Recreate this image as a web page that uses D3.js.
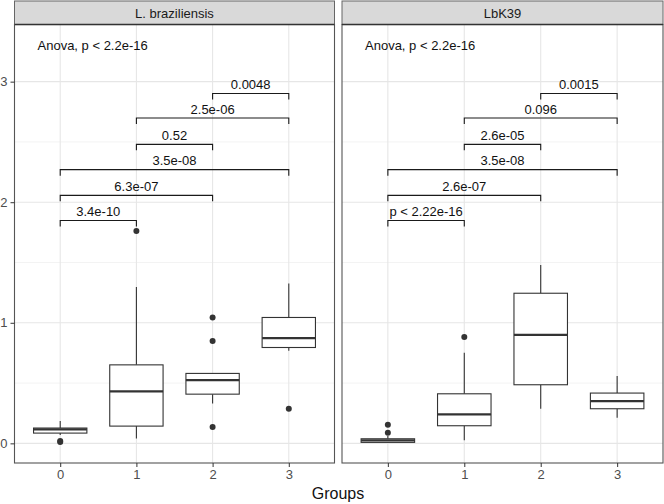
<!DOCTYPE html>
<html><head><meta charset="utf-8">
<script src="https://cdn.jsdelivr.net/npm/d3@7"></script>
<style>body{margin:0;background:#fff}svg{display:block;font-family:"Liberation Sans",Arial,sans-serif}</style>
</head><body><div id="chart"></div>
<script>
const categories = ["0","1","2","3"];
const panels = ["L. braziliensis","LbK39"];
const yTicks = [0,1,2,3];
const yMinor = [0.5,1.5,2.5];
// box stats per panel: [whiskerLow, q1, median, q3, whiskerHigh]
const statsBraz = [[0.069,0.085,0.116,0.127,0.185],[0.041,0.143,0.431,0.651,1.297],[0.331,0.408,0.524,0.58,0.58],[0.767,0.795,0.872,1.044,1.326]];
const statsK39  = [[0.004,0.008,0.025,0.038,0.06],[0.025,0.146,0.24,0.411,0.751],[0.287,0.486,0.9,1.245,1.48],[0.212,0.287,0.35,0.417,0.558]];
// outliers: [group, value]
const outBraz = [[0,0.019],[0,0.012],[1,1.761],[2,1.044],[2,0.848],[2,0.135],[3,0.287]];
const outK39  = [[0,0.154],[0,0.088],[1,0.883]];
const pairs = [[0,1],[0,2],[0,3],[1,2],[1,3],[2,3]];
const bracketY = [1.848,2.057,2.27,2.48,2.698,2.902];
const pBraz = ["3.4e-10","6.3e-07","3.5e-08","0.52","2.5e-06","0.0048"];
const pK39  = ["p < 2.22e-16","2.6e-07","3.5e-08","2.6e-05","0.096","0.0015"];
const anovaLabel = "Anova, p < 2.2e-16";
const xTitle = "Groups";

const W = 664, H = 504, FS = 13;
const svg = d3.select("#chart").append("svg").attr("width",W).attr("height",H);
const panelTop = 24.5, panelBottom = 463, stripTop = 1;
const panelX = [[14.5,334.5],[342,663]];
const y = d3.scaleLinear().domain([-0.163,3.474]).range([panelBottom,panelTop]);
const data = [
  {name:panels[0], stats:statsBraz, out:outBraz, p:pBraz},
  {name:panels[1], stats:statsK39, out:outK39, p:pK39}
];
const dark = "#333333";
data.forEach((d,i)=>{
  const [x0,x1] = panelX[i];
  const x = d3.scalePoint().domain(categories).range([x0,x1]).padding(0.6);
  const bw = x.step()*0.7;
  const g = svg.append("g");
  yMinor.forEach(v=>g.append("line").attr("x1",x0).attr("x2",x1).attr("y1",y(v)).attr("y2",y(v)).attr("stroke","#ebebeb").attr("stroke-width",0.6));
  yTicks.forEach(v=>g.append("line").attr("x1",x0).attr("x2",x1).attr("y1",y(v)).attr("y2",y(v)).attr("stroke","#e6e6e6").attr("stroke-width",1.1));
  categories.forEach(c=>g.append("line").attr("x1",x(c)).attr("x2",x(c)).attr("y1",panelTop).attr("y2",panelBottom).attr("stroke","#e6e6e6").attr("stroke-width",1.1));
  d.stats.forEach((s,j)=>{
    const cx = x(categories[j]);
    g.append("line").attr("x1",cx).attr("x2",cx).attr("y1",y(s[4])).attr("y2",y(s[3])).attr("stroke",dark).attr("stroke-width",1.1);
    g.append("line").attr("x1",cx).attr("x2",cx).attr("y1",y(s[1])).attr("y2",y(s[0])).attr("stroke",dark).attr("stroke-width",1.1);
    g.append("rect").attr("x",cx-bw/2).attr("width",bw).attr("y",y(s[3])).attr("height",Math.max(0.5,y(s[1])-y(s[3])))
      .attr("fill","#fff").attr("stroke",dark).attr("stroke-width",1.1);
    g.append("line").attr("x1",cx-bw/2).attr("x2",cx+bw/2).attr("y1",y(s[2])).attr("y2",y(s[2])).attr("stroke",dark).attr("stroke-width",2.2);
  });
  d.out.forEach(o=>g.append("circle").attr("cx",x(categories[o[0]])).attr("cy",y(o[1])).attr("r",3).attr("fill",dark));
  pairs.forEach((pr,k)=>{
    const xa = x(categories[pr[0]]), xb = x(categories[pr[1]]), yy = y(bracketY[k]), yt = y(bracketY[k]-0.05);
    g.append("path").attr("d",`M${xa},${yt}V${yy}H${xb}V${yt}`).attr("fill","none").attr("stroke","#1a1a1a").attr("stroke-width",1.1);
    g.append("text").attr("x",(xa+xb)/2).attr("y",yy-4.5).attr("text-anchor","middle").attr("font-size",FS).attr("fill","#111").text(d.p[k]);
  });
  g.append("text").attr("x",x0+23).attr("y",50).attr("font-size",FS).attr("fill","#111").text(anovaLabel);
  g.append("rect").attr("x",x0).attr("y",panelTop).attr("width",x1-x0).attr("height",panelBottom-panelTop).attr("fill","none").attr("stroke","#555").attr("stroke-width",1.1);
  g.append("rect").attr("x",x0).attr("y",stripTop).attr("width",x1-x0).attr("height",panelTop-stripTop).attr("fill","#d9d9d9").attr("stroke","#666").attr("stroke-width",1);
  g.append("line").attr("x1",x0).attr("x2",x1).attr("y1",panelTop).attr("y2",panelTop).attr("stroke","#333").attr("stroke-width",1.5);
  g.append("text").attr("x",(x0+x1)/2).attr("y",18).attr("text-anchor","middle").attr("font-size",FS).attr("fill","#1a1a1a").text(d.name);
  const xa = svg.append("g").attr("transform",`translate(0,${panelBottom})`).call(d3.axisBottom(x).tickSize(4).tickPadding(3));
  xa.select(".domain").remove();
  xa.selectAll("line").attr("stroke","#333");
  xa.selectAll("text").attr("font-size",FS).attr("fill","#4d4d4d").attr("font-family","Liberation Sans, Arial, sans-serif");
  if(i===0){
    const ya = svg.append("g").attr("transform",`translate(${x0},0)`).call(d3.axisLeft(y).tickValues(yTicks).tickFormat(d3.format("d")).tickSize(4).tickPadding(3));
    ya.select(".domain").remove();
    ya.selectAll("line").attr("stroke","#333");
    ya.selectAll("text").attr("font-size",FS).attr("fill","#4d4d4d").attr("font-family","Liberation Sans, Arial, sans-serif");
  }
});
svg.append("text").attr("x",338).attr("y",499).attr("text-anchor","middle").attr("font-size",16).attr("fill","#111").text(xTitle);
</script></body></html>
